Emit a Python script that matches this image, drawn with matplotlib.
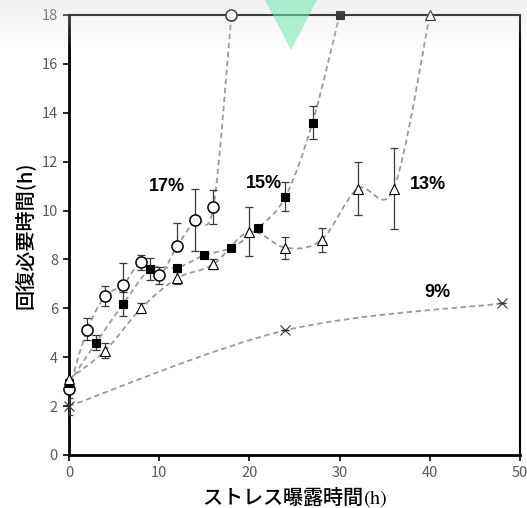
import numpy as np
import matplotlib
matplotlib.use("Agg")
import matplotlib.pyplot as plt
from matplotlib.path import Path
from matplotlib.patches import PathPatch, Polygon

plt.rcParams['font.family'] = ['Noto Sans CJK JP', 'DejaVu Sans']
plt.rcParams['mathtext.fontset'] = 'stix'

# 17%
x17 = [0, 2, 4, 6, 8, 10, 12, 14, 16, 18]
y17 = [2.7, 5.1, 6.5, 6.95, 7.88, 7.35, 8.55, 9.6, 10.13, 18.0]
e17_lo = [0.0, 0.4, 0.4, 0.2, 0.3, 0.35, 0.2, 1.25, 0.7, 0.0]
e17_hi = [0.0, 0.5, 0.4, 0.9, 0.3, 0.35, 0.95, 1.3, 0.7, 0.0]

# 15%
x15 = [0, 3, 6, 9, 12, 15, 18, 21, 24, 27, 30]
y15 = [2.93, 4.6, 6.17, 7.6, 7.66, 8.18, 8.48, 9.29, 10.57, 13.6, 18.0]
e15 = [0.0, 0.3, 0.5, 0.45, 0.0, 0.0, 0.0, 0.0, 0.6, 0.67, 0.0]

# 13%
x13 = [0, 4, 8, 12, 16, 20, 24, 28, 32, 36, 40]
y13 = [3.1, 4.27, 6.0, 7.23, 7.8, 9.14, 8.48, 8.8, 10.9, 10.9, 18.0]
e13 = [0.0, 0.3, 0.2, 0.25, 0.2, 1.0, 0.45, 0.5, 1.1, 1.67, 0.0]

# 9%
x9 = [0, 24, 48]
y9 = [2.0, 5.1, 6.2]
e9 = [0.35, 0.0, 0.0]

labels = ["17%", "15%", "13%", "9%"]
label_pos = [(10.9, 10.97), (21.6, 11.1), (39.8, 11.05), (40.8, 6.63)]


def smooth_path(xs, ys):
    # Excel-like smoothed line: Catmull-Rom as cubic Bezier segments
    p = np.column_stack([xs, ys]).astype(float)
    n = len(p)
    verts = [p[0]]
    codes = [Path.MOVETO]
    for i in range(n - 1):
        p0 = p[i - 1] if i > 0 else p[i]
        p3 = p[i + 2] if i + 2 < n else p[i + 1]
        c1 = p[i] + (p[i + 1] - p0) / 6.0
        c2 = p[i + 1] - (p3 - p[i]) / 6.0
        verts += [c1, c2, p[i + 1]]
        codes += [Path.CURVE4] * 3
    return Path(verts, codes)


fig = plt.figure(figsize=(5.27, 5.08), dpi=100)
ax = fig.add_axes([69 / 527, 53 / 508, 451 / 527, 440 / 508])

line_col = "#9a9a9a"
err_col = "#3a3a3a"

series = [
    (x17, y17, [e17_lo, e17_hi], dict(marker="o", ms=8, mfc="white", mec="black", mew=1.1)),
    (x15, y15, e15, dict(marker="s", ms=5.5, mfc="black", mec="black", mew=0.8)),
    (x13, y13, e13, dict(marker="^", ms=7, mfc="white", mec="black", mew=0.8)),
    (x9, y9, e9, dict(marker="x", ms=6.5, mfc="none", mec="#333333", mew=0.8)),
]

for xs, ys, err, mk in series:
    patch = PathPatch(smooth_path(xs, ys), fill=False, edgecolor=line_col,
                      lw=1.3, linestyle=(0, (3, 2)), zorder=2)
    ax.add_patch(patch)
    ax.errorbar(xs, ys, yerr=err, fmt="none", ecolor=err_col, elinewidth=0.9,
                capsize=3, capthick=0.9, zorder=3)
    ax.plot(xs, ys, linestyle="none", zorder=4, clip_on=False, **mk)

for txt, (tx, ty) in zip(labels, label_pos):
    ax.text(tx, ty, txt, ha="center", va="center", fontsize=13,
            fontweight="bold", family=["Liberation Sans", "DejaVu Sans"])

ax.set_xlim(0, 50)
ax.set_ylim(0, 18)
ax.set_xticks(range(0, 51, 10))
ax.set_yticks(range(0, 19, 2))
ax.tick_params(direction="out", length=4, width=1.2, colors="black",
               labelcolor="#595959", labelsize=10.5, pad=4)
for side in ["left", "bottom"]:
    ax.spines[side].set_linewidth(2.0)
for side in ["top", "right"]:
    ax.spines[side].set_linewidth(1.5)

ax.set_xlabel("ストレス曝露時間$\\mathrm{(h)}$", fontsize=14.5, fontweight="medium", labelpad=3)
ax.set_ylabel("回復必要時間(h)", fontsize=14.5, fontweight="medium", labelpad=5)

# screenshot overlay: grey band at the top and a green triangle
top = fig.add_axes([0, 1 - 50 / 508, 1, 50 / 508], zorder=10)
grad = np.zeros((50, 2, 4))
grad[..., :3] = 0.86
grad[..., 3] = np.linspace(0.4, 0.0, 50)[:, None]
top.imshow(grad, aspect="auto", extent=[0, 1, 0, 1], origin="upper")
top.set_xlim(0, 1)
top.set_ylim(0, 1)
top.axis("off")
fig.patches.append(Polygon([(265 / 527, 1.0), (317 / 527, 1.0), (291 / 527, 1 - 50 / 508)],
                           closed=True, transform=fig.transFigure, facecolor="#6fe8b0",
                           edgecolor="none", alpha=0.55, zorder=11))

fig.savefig("out.png", dpi=100)
